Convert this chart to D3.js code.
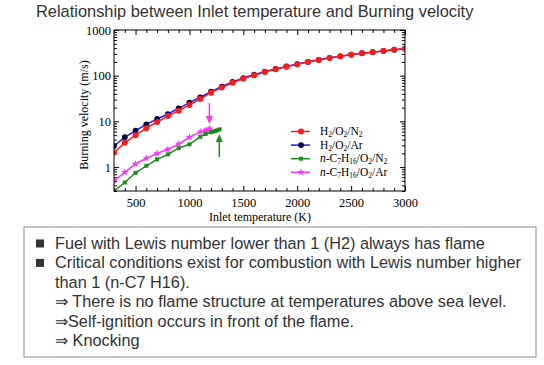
<!DOCTYPE html>
<html>
<head>
<meta charset="utf-8">
<script src="https://cdn.jsdelivr.net/npm/d3@7"></script>
<style>
  body { margin: 0; background: #fff; }
  svg { display: block; }
</style>
</head>
<body>
<script>
// Burning velocity (m/s) vs inlet temperature (K)
const tempH2 = [300, 400, 500, 600, 700, 800, 900, 1000, 1100, 1200, 1300, 1400, 1500, 1600,
  1700, 1800, 1900, 2000, 2100, 2200, 2300, 2400, 2500, 2600, 2700, 2800, 2900, 3000];
const h2N2 = [2.1, 3.4, 5.0, 7.1, 9.7, 13.1, 17.1, 22.9, 30.9, 42.5, 55, 70, 86, 102,
  120, 138, 157, 177, 199, 221, 244, 265, 288, 309, 327, 347, 371, 390];
const h2Ar = [2.9, 4.5, 6.3, 8.6, 11.3, 14.5, 19.3, 25.7, 33.7, 44.7, 58, 73, 89, 105,
  123, 141, 160, 180, 201, 223, 246, 266, 290, 311, 328, 349, 372, 392];

const tempC7N2 = [300, 400, 500, 600, 700, 800, 900, 1000, 1100, 1150, 1200, 1220, 1240, 1260, 1280];
const c7N2 = [0.3, 0.46, 0.75, 1.07, 1.48, 1.9, 2.6, 3.15, 4.6, 5.3, 5.8, 6.0, 6.2, 6.4, 6.7];

const tempC7Ar = [300, 400, 500, 600, 700, 800, 900, 1000, 1100, 1140, 1160, 1180, 1190];
const c7Ar = [0.5, 0.77, 1.17, 1.56, 2.0, 2.45, 3.2, 4.5, 5.9, 6.2, 6.4, 6.6, 6.9];

// critical-point arrows: [temperature, tail value, tip value]
const arrowAr = [1185, 25, 8.8];
const arrowN2 = [1277, 1.66, 5.3];

const xTicks = [500, 1000, 1500, 2000, 2500, 3000];
const yTicks = [1, 10, 100, 1000];

const notes = [
  { bullet: true, text: "Fuel with Lewis number lower than 1 (H2) always has flame" },
  { bullet: true, text: "Critical conditions exist for combustion with Lewis number higher" },
  { bullet: false, text: "than 1 (n-C7 H16)." },
  { bullet: false, text: "\u21d2 There is no flame structure at temperatures above sea level." },
  { bullet: false, text: "\u21d2Self-ignition occurs in front of the flame." },
  { bullet: false, text: "\u21d2 Knocking" }
];

const series = [
  { name: [["H", ""], ["2", "sub"], ["/O", ""], ["2", "sub"], ["/N", ""], ["2", "sub"]],
    x: tempH2, y: h2N2, color: "#ff1a1a", marker: d3.symbolCircle, size: 28, mfill: "#ff1a1a", z: 1 },
  { name: [["H", ""], ["2", "sub"], ["/O", ""], ["2", "sub"], ["/Ar", ""]],
    x: tempH2, y: h2Ar, color: "#1a1aff", marker: d3.symbolCircle, size: 26, mfill: "#000044", z: 0 },
  { name: [["n", "i"], ["-C", ""], ["7", "sub"], ["H", ""], ["16", "sub"], ["/O", ""], ["2", "sub"], ["/N", ""], ["2", "sub"]],
    x: tempC7N2, y: c7N2, color: "#1c8c1c", marker: d3.symbolSquare, size: 16, mfill: "#1c8c1c", z: 3 },
  { name: [["n", "i"], ["-C", ""], ["7", "sub"], ["H", ""], ["16", "sub"], ["/O", ""], ["2", "sub"], ["/Ar", ""]],
    x: tempC7Ar, y: c7Ar, color: "#ff33ff", marker: d3.symbolStar, size: 18, mfill: "#ff33ff", z: 2 }
];

const sans = "'Liberation Sans', Arial, sans-serif";
const serif = "'Liberation Serif', 'Times New Roman', serif";

const svg = d3.select("body").append("svg")
  .attr("width", 544).attr("height", 365);

svg.append("text")
  .attr("x", 36).attr("y", 17)
  .style("font-family", sans)
  .style("font-size", "16.4px")
  .attr("fill", "#333")
  .text("Relationship between Inlet temperature and Burning velocity");

const margin = { left: 114, top: 30 };
const width = 291, height = 161;

const g = svg.append("g").attr("transform", `translate(${margin.left},${margin.top})`);

const x = d3.scaleLinear().domain([300, 3000]).range([0, width]);
const y = d3.scaleLog().domain([0.3, 1000]).range([height, 0]);

// minor ticks
const xMinor = d3.range(300, 3001, 100).filter(d => d % 500 !== 0);
const yMinor = [];
[0.1, 1, 10, 100].forEach(dec => [2, 3, 4, 5, 6, 7, 8, 9].forEach(m => {
  const v = dec * m;
  if (v >= 0.3 && v < 1000) yMinor.push(v);
}));

function styleAxis(sel) {
  sel.select(".domain").remove();
  sel.selectAll("line").attr("stroke", "#000").attr("stroke-width", 1);
  sel.selectAll("text").style("font-family", serif).style("font-size", "12.5px").attr("fill", "#000");
}

// bottom
g.append("g").attr("transform", `translate(0,${height})`)
  .call(d3.axisBottom(x).tickValues(xMinor).tickSize(-3).tickFormat(""))
  .call(styleAxis);
g.append("g").attr("transform", `translate(0,${height})`)
  .call(d3.axisBottom(x).tickValues(xTicks).tickSize(-5).tickPadding(7).tickFormat(d3.format("d")))
  .call(styleAxis);
// top
g.append("g")
  .call(d3.axisTop(x).tickValues(xMinor).tickSize(-3).tickFormat(""))
  .call(styleAxis);
g.append("g")
  .call(d3.axisTop(x).tickValues(xTicks).tickSize(-5).tickFormat(""))
  .call(styleAxis);
// left
g.append("g")
  .call(d3.axisLeft(y).tickValues(yMinor).tickSize(-3).tickFormat(""))
  .call(styleAxis);
g.append("g")
  .call(d3.axisLeft(y).tickValues(yTicks).tickSize(-5).tickPadding(3).tickFormat(d3.format("d")))
  .call(styleAxis);
// right
g.append("g").attr("transform", `translate(${width},0)`)
  .call(d3.axisRight(y).tickValues(yMinor).tickSize(-3).tickFormat(""))
  .call(styleAxis);
g.append("g").attr("transform", `translate(${width},0)`)
  .call(d3.axisRight(y).tickValues(yTicks).tickSize(-5).tickFormat(""))
  .call(styleAxis);

g.append("clipPath").attr("id", "clip")
  .append("rect").attr("width", width).attr("height", height);

const plot = g.append("g").attr("clip-path", "url(#clip)");

const line = d3.line().x(d => x(d[0])).y(d => y(d[1]));

// draw order: blue under red, magenta under green
series.slice().sort((a, b) => a.z - b.z).forEach(s => {
  const pts = s.x.map((t, i) => [t, s.y[i]]);
  plot.append("path")
    .datum(pts)
    .attr("fill", "none")
    .attr("stroke", s.color)
    .attr("stroke-width", 1.5)
    .attr("d", line);
  plot.selectAll(null)
    .data(pts)
    .enter()
    .append("path")
    .attr("transform", d => `translate(${x(d[0])},${y(d[1])})`)
    .attr("d", d3.symbol().type(s.marker).size(s.size))
    .attr("fill", s.mfill);
});

// arrows
function arrow(a, color) {
  const ax = x(a[0]), y0 = y(a[1]), y1 = y(a[2]);
  const dir = y1 > y0 ? 1 : -1;
  g.append("line")
    .attr("x1", ax).attr("x2", ax)
    .attr("y1", y0).attr("y2", y1 - dir * 6)
    .attr("stroke", color).attr("stroke-width", 1.5);
  g.append("path")
    .attr("d", `M${ax - 3.5},${y1 - dir * 8}L${ax + 3.5},${y1 - dir * 8}L${ax},${y1}Z`)
    .attr("fill", color);
}
arrow(arrowAr, "#ff33ff");
arrow(arrowN2, "#1c8c1c");

// frame
g.append("rect")
  .attr("width", width).attr("height", height)
  .attr("fill", "none").attr("stroke", "#000").attr("stroke-width", 1);

// axis titles
svg.append("text")
  .attr("transform", "translate(88,115) rotate(-90)")
  .attr("text-anchor", "middle")
  .style("font-family", serif).style("font-size", "12px")
  .text("Burning velocity (m/s)");

svg.append("text")
  .attr("x", 260).attr("y", 221)
  .attr("text-anchor", "middle")
  .style("font-family", serif).style("font-size", "12px")
  .text("Inlet temperature (K)");

// legend
const legend = g.append("g").attr("transform", "translate(177,101.5)");
series.forEach((s, i) => {
  const row = legend.append("g").attr("transform", `translate(0,${i * 13.6})`);
  row.append("line").attr("x1", 0).attr("x2", 19)
    .attr("stroke", s.color).attr("stroke-width", 1.5);
  row.append("path").attr("transform", "translate(10,0)")
    .attr("d", d3.symbol().type(s.marker).size(s.size))
    .attr("fill", s.mfill);
  const t = row.append("text").attr("x", 29).attr("y", 3.5)
    .style("font-family", serif).style("font-size", "11.5px");
  s.name.forEach(p => {
    const ts = t.append("tspan").text(p[0]);
    if (p[1] === "sub") ts.attr("baseline-shift", "-1.5").style("font-size", "7.5px");
    if (p[1] === "i") ts.style("font-style", "italic");
  });
});

// notes box
svg.append("rect")
  .attr("x", 24).attr("y", 227).attr("width", 512).attr("height", 130)
  .attr("fill", "none").attr("stroke", "#8a8a8a").attr("stroke-width", 1);

notes.forEach((n, i) => {
  const by = 249 + i * 19.4;
  if (n.bullet) {
    svg.append("rect").attr("x", 36).attr("y", by - 9.5).attr("width", 8).attr("height", 8)
      .attr("fill", "#333");
  }
  svg.append("text")
    .attr("x", 55).attr("y", by)
    .style("font-family", sans)
    .style("font-size", "16.3px")
    .attr("fill", "#333")
    .text(n.text);
});
</script>
</body>
</html>
